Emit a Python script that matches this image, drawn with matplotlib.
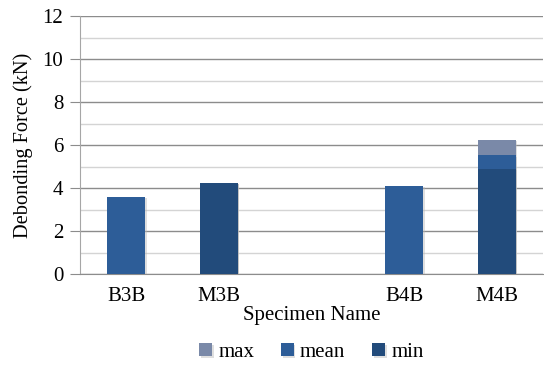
import numpy as np
import matplotlib
matplotlib.use("Agg")
import matplotlib.pyplot as plt
from matplotlib import patheffects as pe

specimens = ["B3B", "M3B", "", "B4B", "M4B"]
max_force = [0.0, 4.23, 0.0, 0.0, 6.23]
mean_force = [3.58, 4.23, 0.0, 4.09, 5.53]
min_force = [0.0, 4.23, 0.0, 0.0, 4.88]
series_names = ["max", "mean", "min"]
series_colors = ["#7A89A8", "#2D5D98", "#224B7B"]

plt.rcParams["font.family"] = ["Liberation Serif", "DejaVu Serif"]

fig = plt.figure(figsize=(5.44, 3.68), dpi=100)
ax = fig.add_axes([0.147, 0.2554, 0.851, 0.7011])

x = np.arange(len(specimens))
width = 0.41
shadow = [pe.SimplePatchShadow(offset=(1.2, -1.0), shadow_rgbFace="#b8b8b8", alpha=0.45), pe.Normal()]
for vals, name, col in zip([max_force, mean_force, min_force], series_names, series_colors):
    ax.bar(x, vals, width=width, color=col, label=name, zorder=3, path_effects=shadow)

ax.set_xlim(-0.5, len(specimens) - 0.5)
ax.set_ylim(0, 12)
ax.set_yticks(np.arange(0, 13, 2))
ax.set_yticks(np.arange(1, 12, 2), minor=True)
ax.set_xticks(x)
ax.set_xticklabels(specimens)

ax.grid(axis="y", which="major", color="#8c8c8c", linewidth=1.0, zorder=0)
ax.grid(axis="y", which="minor", color="#d4d4d4", linewidth=1.0, zorder=0)
for s in ["top", "right"]:
    ax.spines[s].set_visible(False)
ax.spines["left"].set_color("#a6a6a6")
ax.spines["bottom"].set_color("#8c8c8c")
ax.tick_params(axis="y", which="major", length=7, color="#8c8c8c", labelsize=15, pad=5)
ax.tick_params(axis="y", which="minor", length=0)
ax.tick_params(axis="x", length=0, labelsize=15, pad=9)

ax.set_ylabel("Debonding Force (kN)", fontsize=14.7, labelpad=7)
ax.set_xlabel("Specimen Name", fontsize=15, labelpad=0)

ax.legend(loc="center", bbox_to_anchor=(0.5, -0.305), ncol=3, frameon=False,
          fontsize=15, handlelength=0.6, handleheight=0.6, handletextpad=0.3,
          columnspacing=1.3)

fig.savefig("out.png", dpi=100)
